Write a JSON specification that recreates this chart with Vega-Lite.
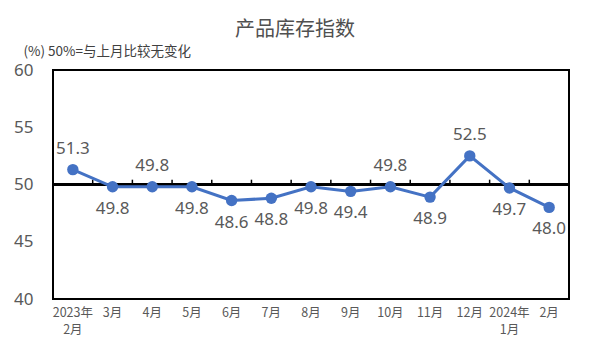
{
  "$schema": "https://vega.github.io/schema/vega-lite/v6.json",
  "width": 516,
  "height": 229,
  "autosize": {"type": "none"},
  "padding": {"left": 53, "top": 70, "right": 22, "bottom": 55},
  "title": {"text": "产品库存指数", "fontSize": 20, "font": "Noto Sans CJK SC", "fontWeight": "normal", "color": "#505050", "anchor": "middle", "dx": -16, "offset": 4},
  "config": {"view": {"stroke": "black", "strokeWidth": 2}, "font": "Noto Sans CJK SC"},
  "data": {"values": [
    {"month": "2023年\n2月", "value": 51.3},
    {"month": "3月", "value": 49.8},
    {"month": "4月", "value": 49.8},
    {"month": "5月", "value": 49.8},
    {"month": "6月", "value": 48.6},
    {"month": "7月", "value": 48.8},
    {"month": "8月", "value": 49.8},
    {"month": "9月", "value": 49.4},
    {"month": "10月", "value": 49.8},
    {"month": "11月", "value": 48.9},
    {"month": "12月", "value": 52.5},
    {"month": "2024年\n1月", "value": 49.7},
    {"month": "2月", "value": 48.0}
  ]},
  "encoding": {
    "x": {"field": "month", "type": "nominal", "sort": null,
          "axis": {"title": null, "labelAngle": 0, "labelColor": "#595959", "labelFontSize": 12.5, "labelPadding": 7, "labelLineHeight": 17, "ticks": false, "domain": false, "grid": false, "labelExpr": "split(datum.value, '\\n')", "labelBaseline": "top"}}
  },
  "layer": [
    {
      "mark": {"type": "rule", "color": "black", "strokeWidth": 2},
      "encoding": {"x": null, "y": {"datum": 50, "type": "quantitative", "scale": {"domain": [40, 60], "zero": false}}}
    },
    {
      "mark": {"type": "rule", "color": "black", "strokeWidth": 1.5, "xOffset": {"expr": "bandwidth('x')/2"}},
      "encoding": {"y": {"datum": 50, "type": "quantitative", "scale": {"domain": [40, 60], "zero": false}}, "y2": {"datum": 50.42}}
    },
    {
      "mark": {"type": "line", "color": "#4472C4", "strokeWidth": 3, "point": {"filled": true, "size": 130, "color": "#4472C4", "opacity": 1}},
      "encoding": {
        "y": {"field": "value", "type": "quantitative", "scale": {"domain": [40, 60], "zero": false},
              "axis": {"values": [40, 45, 50, 55, 60], "grid": false, "ticks": false, "domain": false, "labelColor": "#595959", "labelFontSize": 17, "labelPadding": 20, "labelFont": "Noto Sans",
                       "title": "(%)   50%=与上月比较无变化", "titleAngle": 0, "titleX": -30, "titleY": -19, "titleAlign": "left", "titleBaseline": "middle", "titleFontSize": 13.5, "titleFontWeight": "normal", "titleColor": "#404040"}}
      }
    },
    {
      "transform": [{"filter": {"field": "month", "oneOf": ["2023年\n2月", "4月", "10月", "12月"]}}],
      "mark": {"type": "text", "dy": -21, "fontSize": 17, "color": "#595959", "font": "Noto Sans"},
      "encoding": {
        "y": {"field": "value", "type": "quantitative", "scale": {"domain": [40, 60], "zero": false}},
        "text": {"field": "value", "type": "quantitative", "format": ".1f"}
      }
    },
    {
      "transform": [{"filter": {"not": {"field": "month", "oneOf": ["2023年\n2月", "4月", "10月", "12月"]}}}],
      "mark": {"type": "text", "dy": 22, "fontSize": 17, "color": "#595959", "font": "Noto Sans"},
      "encoding": {
        "y": {"field": "value", "type": "quantitative", "scale": {"domain": [40, 60], "zero": false}},
        "text": {"field": "value", "type": "quantitative", "format": ".1f"}
      }
    }
  ]
}
